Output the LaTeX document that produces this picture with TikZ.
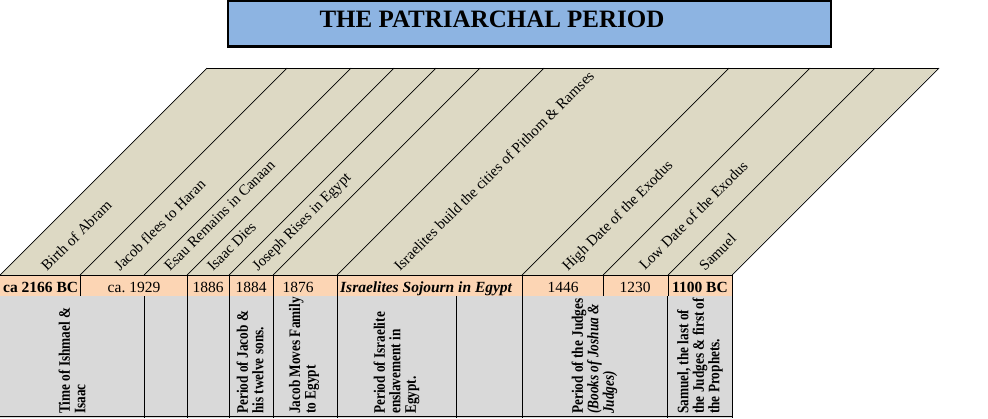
\documentclass[tikz,border=0pt]{standalone}
\usepackage{fontspec}
\setmainfont{Liberation Serif}
\newfontfamily\cellfont[FakeStretch=0.83]{Liberation Serif}

\definecolor{titleblue}{HTML}{8DB4E2}
\definecolor{slantfill}{HTML}{DDD9C4}
\definecolor{datefill}{HTML}{FCD5B4}
\definecolor{cellgray}{HTML}{D9D9D9}

\tikzset{
  slantlabel/.style={rotate=45, anchor=base west, inner sep=0pt, font=\rmfamily\fontsize{15}{15}\selectfont},
  datelabel/.style={anchor=base, inner sep=0pt, font=\rmfamily\fontsize{15.5}{16}\selectfont},
  periodlabel/.style={rotate=90, anchor=west, align=left, inner sep=0pt, font=\cellfont\bfseries\fontsize{16}{15.5}\selectfont},
  gridline/.style={draw=black, line width=0.7pt}
}

\begin{document}
\begin{tikzpicture}[x=1pt, y=-1pt]
  \useasboundingbox (0,0) rectangle (988,418);

  % title box
  \draw[fill=titleblue, line width=1.4pt] (228,1) rectangle (831,47);
  \draw[line width=2.2pt] (228,46.5) -- (831,46.5);
  \node[anchor=base, inner sep=0pt, font=\rmfamily\bfseries\fontsize{25}{25}\selectfont] (title) at (492,27) {THE PATRIARCHAL PERIOD};

  % slanted header band
  \fill[slantfill] (0,275) -- (207,68) -- (938,68) -- (731,275) -- cycle;
  \draw[gridline, line width=1pt] (207,68) -- (938,68);
  \foreach \b in {0,80,144,187,229,273,337,522,603,668,732} {
    \draw[gridline] (\b,275) -- ++(207,-207);
  }

  % event labels
  \node[slantlabel] (lbAbram)  at (47,272)  {Birth of Abram};
  \node[slantlabel] (lbHaran)  at (120,272) {Jacob flees to Haran};
  \node[slantlabel] (lbEsau)   at (170,272) {Esau Remains in Canaan};
  \node[slantlabel] (lbIsaac)  at (213,272) {Isaac Dies};
  \node[slantlabel] (lbJoseph) at (258,272) {Joseph Rises in Egypt};
  \node[slantlabel] (lbPithom) at (400,272) {Israelites build the cities of Pithom \& Ramses};
  \node[slantlabel] (lbHigh)   at (568,272) {High Date of the Exodus};
  \node[slantlabel] (lbLow)    at (645,271) {Low Date of the Exodus};
  \node[slantlabel] (lbSamuel) at (705,272) {Samuel};

  % date row
  \fill[datefill] (0,275) rectangle (732,296);
  \draw[gridline] (0,275) -- (732,275);
  \draw[gridline] (0,296) -- (732,296);
  \foreach \b in {80,187,229,273,337,522,603,668,732} {
    \draw[gridline] (\b,275) -- (\b,296);
  }
  \node[datelabel, anchor=base west] (d2166) at (3,292) {\bfseries ca 2166 BC};
  \node[datelabel] (d1929) at (134,292) {ca.\ 1929};
  \node[datelabel] (d1886) at (208,292) {1886};
  \node[datelabel] (d1884) at (251,292) {1884};
  \node[datelabel] (d1876) at (298,292) {1876};
  \node[datelabel, anchor=base west] (dSojourn) at (340,292) {\bfseries\itshape Israelites Sojourn in Egypt};
  \node[datelabel] (d1446) at (563,292) {1446};
  \node[datelabel] (d1230) at (635,292) {1230};
  \node[datelabel] (d1100) at (700,292) {\bfseries 1100 BC};

  % period row
  \fill[cellgray] (0,296) rectangle (732,418);
  \draw[gridline] (0,416) -- (732,416);
  \foreach \b in {144,187,229,273,337,456,522,667,732} {
    \draw[gridline] (\b,296) -- (\b,418);
  }
  \node[periodlabel] (pIshmael) at (72,414)    {Time of Ishmael \&\\Isaac};
  \node[periodlabel] (pJacob)   at (250,414)   {Period of Jacob \&\\his twelve sons.};
  \node[periodlabel] (pMoves)   at (304,414)   {Jacob Moves Family\\to Egypt};
  \node[periodlabel] (pSlave)   at (396.5,414) {Period of Israelite\\enslavement in\\Egypt.};
  \node[periodlabel] (pJudges)  at (594.5,414) {Period of the Judges\\\itshape (Books of Joshua \&\\\itshape Judges)};
  \node[periodlabel] (pSamuel)  at (700,414)   {Samuel, the last of\\the Judges \& first of\\the Prophets.};
\end{tikzpicture}
\end{document}
